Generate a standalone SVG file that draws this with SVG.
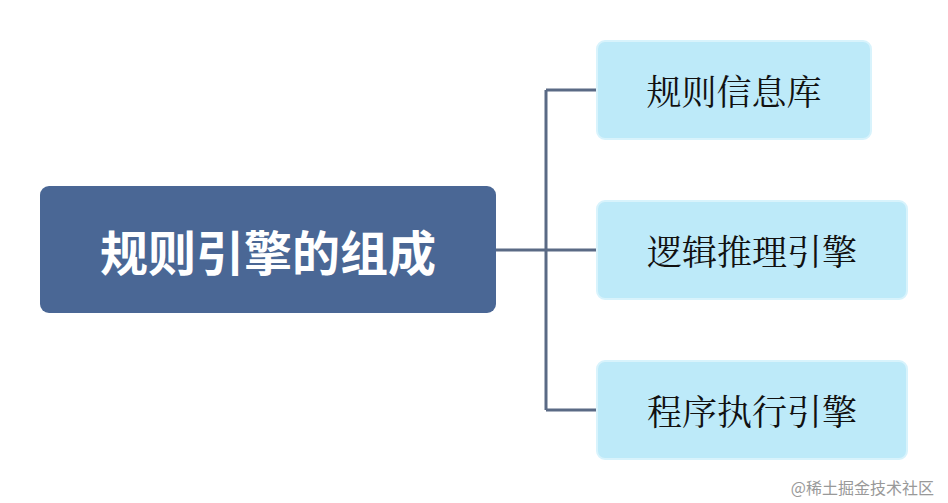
<svg xmlns="http://www.w3.org/2000/svg" width="948" height="503" viewBox="0 0 948 503">
<style>
.leaf{fill:#bdeaf9;stroke:#d8f3fc;stroke-width:2}
.lt{font-family:"Noto Serif CJK SC","Noto Sans CJK SC",serif;font-size:35px;fill:#111;text-anchor:middle;dominant-baseline:central}
.conn{fill:none;stroke:#5a6a85;stroke-width:3}
</style>
<rect width="948" height="503" fill="#fff"/>
<g id="connectors">
<path class="conn" d="M496 250H546M546 90V410M546 90H597M546 250H597M546 410H597"/>
</g>
<g id="root">
<rect x="40" y="186" width="456" height="127" rx="9" fill="#4a6795"/>
<text x="268" y="250" font-family="Noto Sans CJK SC,sans-serif" font-size="48" font-weight="bold" fill="#fff" text-anchor="middle" dominant-baseline="central">规则引擎的组成</text>
</g>
<g id="n1"><rect class="leaf" x="597" y="41" width="274" height="98" rx="8"/><text class="lt" x="734" y="90">规则信息库</text></g>
<g id="n2"><rect class="leaf" x="597" y="201" width="310" height="98" rx="8"/><text class="lt" x="752" y="250">逻辑推理引擎</text></g>
<g id="n3"><rect class="leaf" x="597" y="361" width="310" height="98" rx="8"/><text class="lt" x="752" y="410">程序执行引擎</text></g>
<text x="934" y="487" font-family="Noto Sans CJK SC,sans-serif" font-size="16" fill="#999" text-anchor="end" dominant-baseline="central">@稀土掘金技术社区</text>
</svg>
